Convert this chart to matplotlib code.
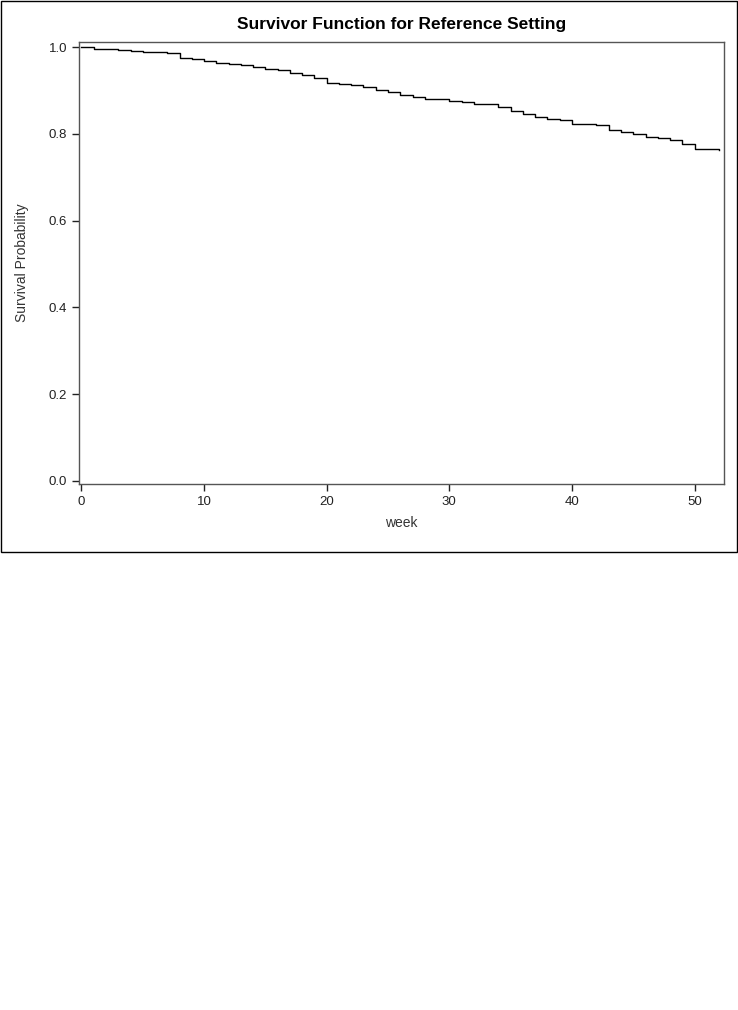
import matplotlib
matplotlib.use('Agg')
import matplotlib.pyplot as plt
from matplotlib.patches import Rectangle
from matplotlib.ticker import FormatStrFormatter

# survivor function (step times in weeks)
weeks = [0, 1, 3, 4, 5, 7, 8, 9, 10, 11, 12, 13, 14, 15, 16, 17, 18, 19, 20,
         21, 22, 23, 24, 25, 26, 27, 28, 30, 31, 32, 33, 34, 35, 36, 37, 38,
         39, 40, 42, 43, 44, 45, 46, 47, 48, 49, 50, 52]
survival = [1.0, 0.997, 0.994, 0.992, 0.989, 0.986, 0.975, 0.972, 0.969,
            0.964, 0.962, 0.960, 0.955, 0.949, 0.947, 0.940, 0.935, 0.928,
            0.917, 0.915, 0.913, 0.909, 0.902, 0.896, 0.889, 0.886, 0.880,
            0.877, 0.874, 0.870, 0.868, 0.862, 0.854, 0.846, 0.839, 0.835,
            0.832, 0.822, 0.820, 0.808, 0.805, 0.801, 0.793, 0.790, 0.785,
            0.776, 0.766, 0.762]
xticks = [0, 10, 20, 30, 40, 50]
yticks = [0.0, 0.2, 0.4, 0.6, 0.8, 1.0]

plt.rcParams['font.family'] = ['Liberation Sans', 'DejaVu Sans']

W, H = 738, 1010
fig = plt.figure(figsize=(W / 100, H / 100), dpi=100)

# outer frame around the graph area
fig.patches.append(Rectangle((0.5 / W, 1 - 551.5 / H), 736 / W, 551 / H,
                             transform=fig.transFigure, fill=False,
                             edgecolor='black', linewidth=1))

ax = fig.add_axes([79 / W, 1 - 484 / H, 645 / W, 442 / H])
ax.plot(weeks, survival, drawstyle='steps-post', color='black', linewidth=1)

ax.set_xlim(-0.2, 52.4)
ax.set_ylim(-0.007, 1.012)
ax.set_xticks(xticks)
ax.set_yticks(yticks)
ax.yaxis.set_major_formatter(FormatStrFormatter('%.1f'))
ax.tick_params(direction='out', length=5, width=1, labelsize=9.5, colors='#222222')
for s in ax.spines.values():
    s.set_color('#555555')
    s.set_linewidth(1)

ax.set_xlabel('week', fontsize=10, color='#333333', labelpad=6)
ax.set_ylabel('Survival Probability', fontsize=10, color='#333333', labelpad=14)
ax.set_title('Survivor Function for Reference Setting', fontsize=12.5,
             fontweight='bold', pad=9)

fig.savefig('out.png', dpi=100)
